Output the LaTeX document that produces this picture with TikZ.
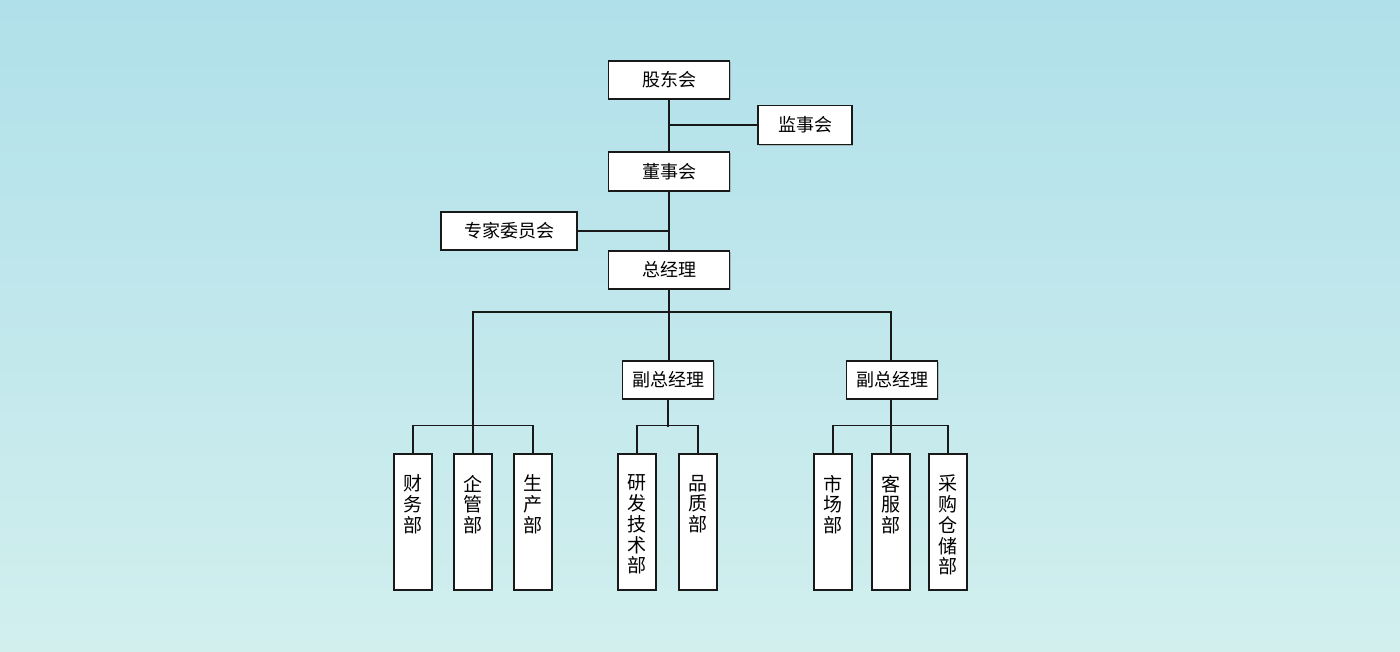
\documentclass[tikz,border=0pt]{standalone}
\usepackage{fontspec}
\setmainfont{Noto Sans CJK SC}
\usetikzlibrary{shadows}

\definecolor{bgtop}{RGB}{176,224,234}
\definecolor{bgbot}{RGB}{210,239,238}
\newcommand{\vlabel}[1]{\parbox[c][136pt][t]{38pt}{\centering\fontsize{19}{21}\selectfont\baselineskip=20.75pt\vspace*{21pt}#1}}

\begin{document}
\begin{tikzpicture}[x=1pt,y=-1pt,
	orgbox/.style={draw=black!90, line width=1.4pt, fill=white, inner sep=0pt, font=\fontsize{18}{21}\selectfont, drop shadow={shadow xshift=1.2pt, shadow yshift=-1.2pt, opacity=0.45}},
	dept/.style={orgbox, minimum width=38pt, minimum height=136pt},
	link/.style={draw=black!90, line width=1.4pt}]

	\fill[top color=bgtop, bottom color=bgbot] (0,0) rectangle (1400,652);
	\useasboundingbox (0,0) rectangle (1400,652);

	\node[orgbox, minimum width=121pt, minimum height=38pt] (gdh) at (669,80) {股东会};
	\node[orgbox, minimum width=94pt, minimum height=39pt] (jsh) at (805,125) {监事会};
	\node[orgbox, minimum width=121pt, minimum height=39pt] (dsh) at (669,171.5) {董事会};
	\node[orgbox, minimum width=136pt, minimum height=38pt] (zjh) at (509,231) {专家委员会};
	\node[orgbox, minimum width=121pt, minimum height=38pt] (zjl) at (669,270) {总经理};

	\node[orgbox, minimum width=91pt, minimum height=38pt] (fz1) at (668,380) {副总经理};
	\node[orgbox, minimum width=91pt, minimum height=38pt] (fz2) at (892,380) {副总经理};

	\node[dept] (cwb) at (413,522) {\vlabel{财\\务\\部}};
	\node[dept] (qgb) at (473,522) {\vlabel{企\\管\\部}};
	\node[dept] (scb) at (533,522) {\vlabel{生\\产\\部}};
	\node[dept] (yfb) at (637,522) {\vlabel{研\\发\\技\\术\\部}};
	\node[dept] (pzb) at (698,522) {\vlabel{品\\质\\部}};
	\node[dept] (shb) at (833,522) {\vlabel{市\\场\\部}};
	\node[dept] (kfb) at (891,522) {\vlabel{客\\服\\部}};
	\node[dept] (cgb) at (948,522) {\vlabel{采\\购\\仓\\储\\部}};

	\coordinate (bus) at (669,312);

	\draw[link] (gdh) -- (dsh);
	\draw[link] (jsh.west) -- (jsh.west -| gdh.south);
	\draw[link] (dsh) -- (zjl);
	\draw[link] (zjh.east) -- (zjh.east -| dsh.south);
	\draw[link] (zjl.south) -- (zjl.south |- fz1.north);
	\draw[link] (kfb.north |- fz2.north) |- (bus) -| (qgb.north);

	\draw[link] (cwb.north) -- +(0,-28) -| (scb.north);
	\draw[link] (fz1.south) -- +(0,27);
	\draw[link] (yfb.north) -- +(0,-28) -| (pzb.north);
	\draw[link] (shb.north) -- +(0,-28) -| (cgb.north);
	\draw[link] (kfb.north |- fz2.south) -- (kfb.north);

\end{tikzpicture}
\end{document}
